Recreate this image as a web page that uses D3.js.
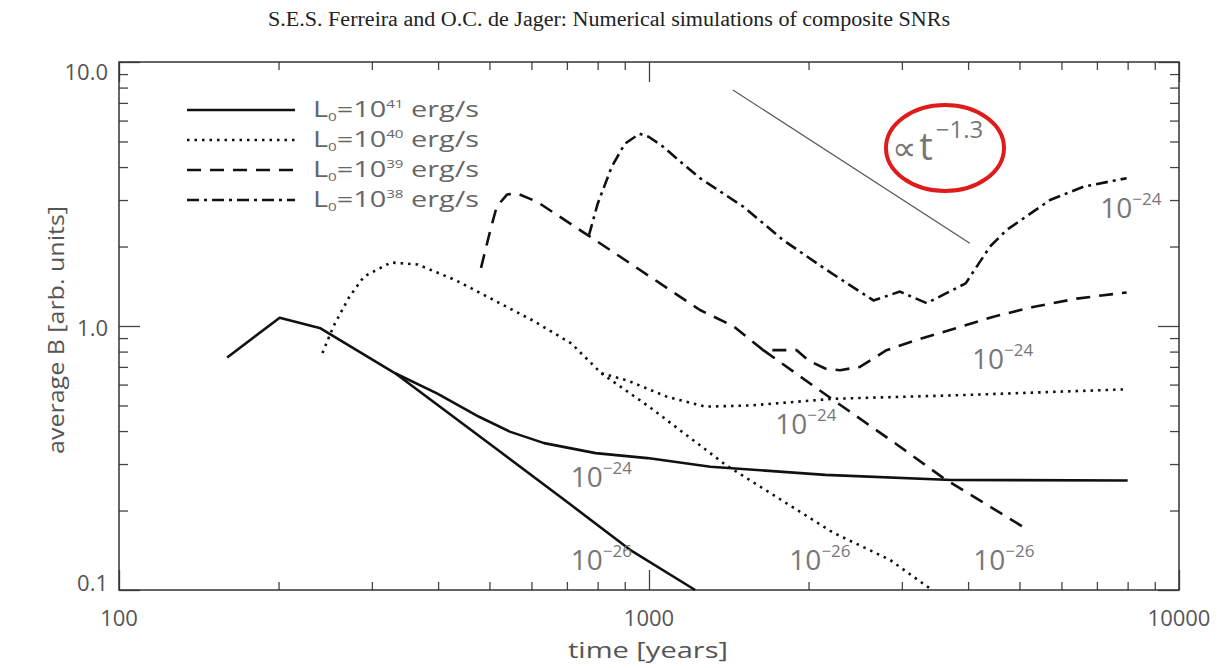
<!DOCTYPE html>
<html>
<head>
<meta charset="utf-8">
<script src="https://cdn.jsdelivr.net/npm/d3@7"></script>
<style>
  body { margin: 0; background: #fff; }
  text { font-family: "Open Sans", Lato, "DejaVu Sans", sans-serif; }
</style>
</head>
<body>
<div id="chart-area"></div>
<script>
// ---- data: [time (years), average B] ----
var l41Upper = [[160,0.76],[201,1.075],[240,0.98],[332,0.662],[398,0.556],[478,0.453],[546,0.398],
    [634,0.36],[793,0.33],[993,0.316],[1306,0.293],[2151,0.273],[3724,0.261],[8000,0.26]];
var l41Lower = [[332,0.662],[524,0.334],[706,0.213],[921,0.142],[1222,0.1]];

var l40Upper = [[242,0.79],[254,1.0],[272,1.29],[290,1.54],[326,1.74],[366,1.71],[432,1.49],[511,1.25],
    [603,1.05],[713,0.86],[813,0.662],[914,0.62],[1080,0.54],[1276,0.495],[1550,0.5],[2225,0.53],
    [3958,0.548],[7840,0.575]];
var l40Lower = [[813,0.662],[1000,0.495],[1395,0.298],[2225,0.165],[2850,0.13],[3420,0.1]];

var l39Upper = [[482,1.66],[502,2.31],[516,2.83],[540,3.15],[563,3.18],[614,2.96],[761,2.23],[1248,1.15],
    [1441,1.0],[1643,0.81],[1900,0.81],[2000,0.74],[2150,0.69],[2293,0.68],[2500,0.70],[2806,0.81],
    [3198,0.885],[3698,0.966],[4467,1.085],[5302,1.18],[6412,1.27],[7966,1.34]];
var l39Lower = [[1643,0.81],[2225,0.525],[2976,0.349],[3597,0.265],[5063,0.174]];

var l38 = [[770,2.2],[800,2.9],[850,4.0],[900,4.9],[960,5.35],[1000,5.2],[1060,4.8],[1178,4.0],[1248,3.63],
    [1507,2.83],[1789,2.12],[2163,1.63],[2651,1.25],[2976,1.35],[3341,1.22],[3958,1.45],[4399,2.0],
    [4729,2.31],[5710,3.0],[6600,3.37],[7966,3.63]];

// t^-1.3 guide line
var powerLaw = [[1440,7.83],[4030,2.06]];

// legend
var legendExp = ["41", "40", "39", "38"];
var legendDash = ["none", "2.5,5", "14,9", "12,5,3,5"];

// curve labels (position in data coords, left/baseline)
var labelTimes = [7100, 4070, 1730, 712, 712, 1840, 4090];
var labelB = [2.57, 0.69, 0.39, 0.245, 0.119, 0.119, 0.119];
var labelExp = ["\u221224", "\u221224", "\u221224", "\u221224", "\u221226", "\u221226", "\u221226"];

// ticks
var xMajor = [100, 1000, 10000];
var xMajorLabels = ["100", "1000", "10000"];
var xMinor = [200,300,400,500,600,700,800,900,2000,3000,4000,5000,6000,7000,8000,9000];
var yMajor = [0.1, 1, 10];
var yMajorLabels = ["0.1", "1.0", "10.0"];
var yMinor = [0.2,0.3,0.4,0.5,0.6,0.7,0.8,0.9,2,3,4,5,6,7,8,9];

var width = 1219, height = 668;
var svg = d3.select("#chart-area").append("svg")
    .attr("width", width)
    .attr("height", height);

var x = d3.scaleLog().domain([100, 10000]).range([119, 1179]);
var y = d3.scaleLog().domain([0.1, 10]).range([590, 62]);
// labels sit a touch inside the axis ends, like the original
var yLab = d3.scaleLog().domain([0.1, 10]).range([583, 72]);

// title
svg.append("text")
    .attr("x", 609).attr("y", 26)
    .attr("text-anchor", "middle")
    .attr("textLength", 682)
    .attr("lengthAdjust", "spacingAndGlyphs")
    .style("font-family", "'Liberation Serif', serif")
    .attr("font-size", 20)
    .attr("fill", "#222")
    .text("S.E.S. Ferreira and O.C. de Jager: Numerical simulations of composite SNRs");

// ticks on all four sides, pointing inward
function ticks(axis, vals, len, transform) {
    svg.append("g")
        .attr("transform", transform)
        .call(axis.tickValues(vals).tickSize(-len).tickFormat(""))
        .call(function(g) { g.select(".domain").remove(); })
        .selectAll("line").attr("stroke", "#444").attr("stroke-width", 1.3);
}
ticks(d3.axisBottom(x), xMinor, 8, "translate(0,590)");
ticks(d3.axisBottom(x), xMajor, 20, "translate(0,590)");
ticks(d3.axisTop(x), xMinor, 8, "translate(0,62)");
ticks(d3.axisTop(x), xMajor, 20, "translate(0,62)");
ticks(d3.axisLeft(y), yMinor, 9, "translate(119,0)");
ticks(d3.axisLeft(y), yMajor, 21, "translate(119,0)");
ticks(d3.axisRight(y), yMinor, 9, "translate(1179,0)");
ticks(d3.axisRight(y), yMajor, 21, "translate(1179,0)");

svg.append("rect")
    .attr("x", 119).attr("y", 62)
    .attr("width", 1179 - 119).attr("height", 590 - 62)
    .attr("fill", "none").attr("stroke", "#333").attr("stroke-width", 1.5);

// tick labels
svg.selectAll(".xlab").data(xMajor).enter().append("text")
    .attr("class", "xlab")
    .attr("x", function(d) { return x(d); })
    .attr("y", 626)
    .attr("text-anchor", "middle")
    .attr("font-size", 22).attr("fill", "#555")
    .text(function(d, i) { return xMajorLabels[i]; });

svg.selectAll(".ylab").data(yMajor).enter().append("text")
    .attr("class", "ylab")
    .attr("x", 108)
    .attr("y", function(d) { return yLab(d) + 8; })
    .attr("text-anchor", "end")
    .attr("font-size", 22).attr("fill", "#555")
    .text(function(d, i) { return yMajorLabels[i]; });

// axis titles (the original font is wide, so stretch it)
svg.append("text")
    .attr("x", 648).attr("y", 658)
    .attr("text-anchor", "middle")
    .attr("textLength", 160)
    .attr("lengthAdjust", "spacingAndGlyphs")
    .attr("font-size", 22).attr("fill", "#555")
    .text("time [years]");

svg.append("text")
    .attr("transform", "translate(64,330) rotate(-90)")
    .attr("text-anchor", "middle")
    .attr("textLength", 248)
    .attr("lengthAdjust", "spacingAndGlyphs")
    .attr("font-size", 21).attr("fill", "#555")
    .text("average B [arb. units]");

// curves
var line = d3.line()
    .x(function(d) { return x(d[0]); })
    .y(function(d) { return y(d[1]); });

var curves = [
    { data: l41Upper, dash: legendDash[0] },
    { data: l41Lower, dash: legendDash[0] },
    { data: l40Upper, dash: legendDash[1] },
    { data: l40Lower, dash: legendDash[1] },
    { data: l39Upper, dash: legendDash[2] },
    { data: l39Lower, dash: legendDash[2] },
    { data: l38, dash: legendDash[3] }
];

svg.selectAll(".curve").data(curves).enter().append("path")
    .attr("class", "curve")
    .attr("d", function(d) { return line(d.data); })
    .attr("fill", "none")
    .attr("stroke", "#111")
    .attr("stroke-width", 2.6)
    .attr("stroke-linejoin", "round")
    .attr("stroke-dasharray", function(d) { return d.dash; });

// power-law guide
svg.append("path")
    .attr("d", line(powerLaw))
    .attr("fill", "none")
    .attr("stroke", "#555")
    .attr("stroke-width", 1.2);

// "∝ t^-1.3" with red ring
var pl = svg.append("text")
    .attr("x", x(2874)).attr("y", y(4.25))
    .attr("fill", "#777");
pl.append("tspan").attr("font-size", 34).text("\u221D");
pl.append("tspan").attr("font-size", 38).attr("dx", 3).text("t");
pl.append("tspan").attr("font-size", 24).attr("dy", -22).attr("dx", 3).text("\u22121.3");

svg.append("ellipse")
    .attr("cx", x(3618)).attr("cy", y(4.72))
    .attr("rx", 59).attr("ry", 43)
    .attr("fill", "none")
    .attr("stroke", "#e01b1b")
    .attr("stroke-width", 4);

// curve labels
labelTimes.forEach(function(t, i) {
    var txt = svg.append("text")
        .attr("x", x(t)).attr("y", y(labelB[i]))
        .attr("fill", "#777");
    txt.append("tspan").attr("font-size", 28).text("10");
    txt.append("tspan").attr("font-size", 17).attr("dy", -13).text(labelExp[i]);
});

// legend
var legend = svg.selectAll(".legend").data(legendExp).enter().append("g")
    .attr("class", "legend")
    .attr("transform", function(d, i) { return "translate(0," + (110 + i * 30) + ")"; });

legend.append("line")
    .attr("x1", 187).attr("x2", 295)
    .attr("stroke", "#111").attr("stroke-width", 2.4)
    .attr("stroke-dasharray", function(d, i) { return legendDash[i]; });

var lt = legend.append("text")
    .attr("x", 313).attr("y", 7)
    .attr("fill", "#666")
    .attr("font-size", 21)
    .attr("textLength", 166)
    .attr("lengthAdjust", "spacingAndGlyphs");
lt.append("tspan").text("L");
lt.append("tspan").attr("font-size", 11).attr("dy", 4).text("0");
lt.append("tspan").attr("dy", -4).text("=10");
lt.append("tspan").attr("font-size", 11).attr("dy", -9).text(function(d) { return d; });
lt.append("tspan").attr("dy", 9).text(" erg/s");
</script>
</body>
</html>
